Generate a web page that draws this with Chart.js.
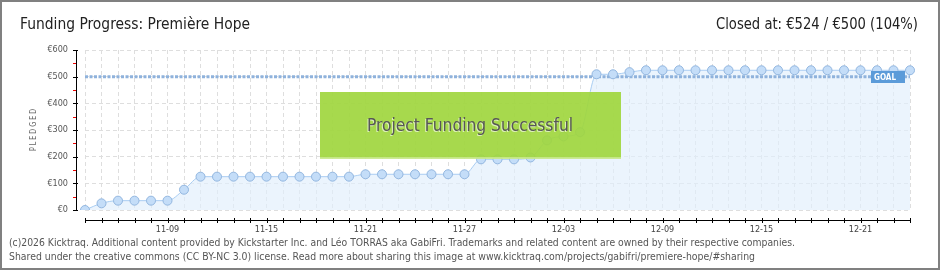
<!DOCTYPE html>
<html>
<head>
<meta charset="utf-8">
<script src="https://cdn.jsdelivr.net/npm/chart.js@4.4.1/dist/chart.umd.min.js"></script>
<style>
  html, body { margin: 0; padding: 0; background: #fff; }
  #box { width: 940px; height: 270px; position: relative; }
</style>
</head>
<body>
<div id="box"><canvas id="myChart" width="940" height="270"></canvas></div>
<script>
// days of the campaign, 11-04 .. 12-24
const days = [
  '11-04','11-05','11-06','11-07','11-08','11-09','11-10','11-11','11-12','11-13',
  '11-14','11-15','11-16','11-17','11-18','11-19','11-20','11-21','11-22','11-23',
  '11-24','11-25','11-26','11-27','11-28','11-29','11-30','12-01','12-02','12-03',
  '12-04','12-05','12-06','12-07','12-08','12-09','12-10','12-11','12-12','12-13',
  '12-14','12-15','12-16','12-17','12-18','12-19','12-20','12-21','12-22','12-23','12-24'
];
const pledged = [
  0, 25, 35, 35, 35, 35, 76, 125, 125, 125,
  125, 125, 125, 125, 125, 125, 125, 134, 134, 134,
  134, 134, 134, 134, 190, 190, 190, 197, 261, 276,
  292, 509, 509, 517, 524, 524, 524, 524, 524, 524,
  524, 524, 524, 524, 524, 524, 524, 524, 524, 524, 524
];
const goal = 500;
const goalLine = days.map(() => goal);
const yTicks = [0, 100, 200, 300, 400, 500, 600];

const FONT = '"DejaVu Sans Condensed", "DejaVu Sans", sans-serif';

// draw text squeezed to a given width
function fitText(ctx, txt, x, y, w, align) {
  const m = ctx.measureText(txt).width;
  const s = w / m;
  ctx.save();
  if (align === 'right') ctx.translate(x - w, y);
  else if (align === 'center') ctx.translate(x - w / 2, y);
  else ctx.translate(x, y);
  ctx.scale(s, 1);
  ctx.textAlign = 'left';
  ctx.fillText(txt, 0, 0);
  ctx.restore();
}

const decor = {
  id: 'decor',
  beforeDraw(chart) {
    const ctx = chart.ctx;
    ctx.save();
    ctx.fillStyle = '#fff';
    ctx.fillRect(0, 0, chart.width, chart.height);
    ctx.restore();
  },
  afterDraw(chart) {
    const ctx = chart.ctx;
    const a = chart.chartArea;
    const xs = chart.scales.x, ys = chart.scales.y;
    ctx.save();

    // axes, offset from the plot
    const axX = a.left - 9, axY = a.bottom + 10;
    ctx.strokeStyle = '#000';
    ctx.lineWidth = 1;
    ctx.beginPath();
    ctx.moveTo(axX + 0.5, a.top);
    ctx.lineTo(axX + 0.5, a.bottom + 1);
    ctx.moveTo(a.left, axY + 0.5);
    ctx.lineTo(a.right + 1, axY + 0.5);
    ctx.stroke();
    for (let v = 0; v <= 600; v += 100) {
      const y = Math.round(ys.getPixelForValue(v)) + 0.5;
      ctx.beginPath();
      ctx.moveTo(axX - 3, y);
      ctx.lineTo(axX + 2, y);
      ctx.stroke();
    }
    ctx.strokeStyle = '#e00';
    for (let v = 50; v < 600; v += 100) {
      const y = Math.round(ys.getPixelForValue(v)) + 0.5;
      ctx.beginPath();
      ctx.moveTo(axX - 3, y);
      ctx.lineTo(axX, y);
      ctx.stroke();
    }
    ctx.strokeStyle = '#000';
    days.forEach((d, i) => {
      const x = Math.round(xs.getPixelForValue(i)) + 0.5;
      ctx.beginPath();
      ctx.moveTo(x, axY - 2);
      ctx.lineTo(x, axY + 3);
      ctx.stroke();
    });

    // y title
    ctx.fillStyle = '#666';
    ctx.font = '8px ' + FONT;
    ctx.save();
    ctx.translate(34, 130);
    ctx.rotate(-Math.PI / 2);
    ctx.textBaseline = 'middle';
    fitText(ctx, 'P L E D G E D', 0, 0, 42, 'center');
    ctx.restore();

    // goal label
    ctx.fillStyle = '#5b9bd9';
    ctx.fillRect(871, 71, 34, 12);
    ctx.fillStyle = '#fff';
    ctx.font = 'bold 9px ' + FONT;
    ctx.textBaseline = 'middle';
    fitText(ctx, 'GOAL', 874, 77.5, 22, 'left');

    // success banner
    ctx.fillStyle = 'rgba(160, 214, 62, 0.92)';
    ctx.fillRect(320, 92, 301, 66);
    ctx.fillStyle = 'rgba(200, 232, 140, 0.9)';
    ctx.fillRect(320, 157, 301, 2);
    ctx.font = '17px ' + FONT;
    ctx.textBaseline = 'middle';
    ctx.fillStyle = 'rgba(235, 245, 215, 0.8)';
    fitText(ctx, 'Project Funding Successful', 469, 128, 206, 'center');
    ctx.fillStyle = '#575757';
    fitText(ctx, 'Project Funding Successful', 470, 127, 206, 'center');

    // titles
    ctx.fillStyle = '#222';
    ctx.textBaseline = 'alphabetic';
    ctx.font = '15px ' + FONT;
    fitText(ctx, 'Funding Progress: Première Hope', 20, 29, 230, 'left');
    fitText(ctx, 'Closed at: €524 / €500 (104%)', 918, 29, 202, 'right');

    // footer
    ctx.fillStyle = '#555';
    ctx.font = '10px "DejaVu Sans", sans-serif';
    ctx.textBaseline = 'middle';
    fitText(ctx, '(c)2026 Kicktraq. Additional content provided by Kickstarter Inc. and Léo TORRAS aka GabiFri. Trademarks and related content are owned by their respective companies.', 9, 243, 786, 'left');
    fitText(ctx, 'Shared under the creative commons (CC BY-NC 3.0) license. Read more about sharing this image at www.kicktraq.com/projects/gabifri/premiere-hope/#sharing', 9, 257, 746, 'left');

    // frame
    ctx.strokeStyle = '#808080';
    ctx.lineWidth = 2;
    ctx.strokeRect(1, 1, chart.width - 2, chart.height - 2);
    ctx.restore();
  }
};

const ctx = document.getElementById('myChart').getContext('2d');
const myChart = new Chart(ctx, {
  type: 'line',
  data: {
    labels: days,
    datasets: [{
      label: 'Pledged',
      data: pledged,
      borderColor: '#a9cdf2',
      borderWidth: 1,
      backgroundColor: 'rgba(225, 238, 252, 0.65)',
      fill: 'origin',
      cubicInterpolationMode: 'monotone',
      pointRadius: 4.5,
      pointBackgroundColor: '#c4ddf8',
      pointBorderColor: '#93b7e0',
      pointBorderWidth: 1,
      order: 1
    }, {
      label: 'Goal',
      data: goalLine,
      borderColor: '#8fb2dc',
      borderWidth: 3,
      borderDash: [3, 1.5],
      pointRadius: 0,
      fill: false,
      order: 2
    }]
  },
  options: {
    responsive: false,
    animation: false,
    layout: { padding: { top: 50, right: 30, left: 0, bottom: 0 } },
    plugins: {
      legend: { display: false },
      tooltip: { enabled: false },
      filler: { drawTime: 'beforeDatasetsDraw' }
    },
    scales: {
      x: {
        offset: false,
        afterFit: s => { s.height = 60; },
        grid: { color: '#dedede', drawTicks: false },
        border: { display: false, dash: [4, 3] },
        ticks: {
          autoSkip: false,
          maxRotation: 0,
          padding: 14,
          color: '#444',
          font: { family: FONT, size: 9 },
          callback: (v, i) => (i % 6 === 5 ? days[i] : '')
        }
      },
      y: {
        min: 0,
        max: 600,
        afterFit: s => { s.width = 85; },
        afterBuildTicks: s => { s.ticks = yTicks.map(v => ({ value: v })); },
        grid: { color: '#dedede', drawTicks: false },
        border: { display: false, dash: [4, 3] },
        ticks: {
          padding: 17,
          color: '#555',
          font: { family: FONT, size: 9 },
          callback: v => '€' + v
        }
      }
    }
  },
  plugins: [decor]
});
</script>
</body>
</html>
